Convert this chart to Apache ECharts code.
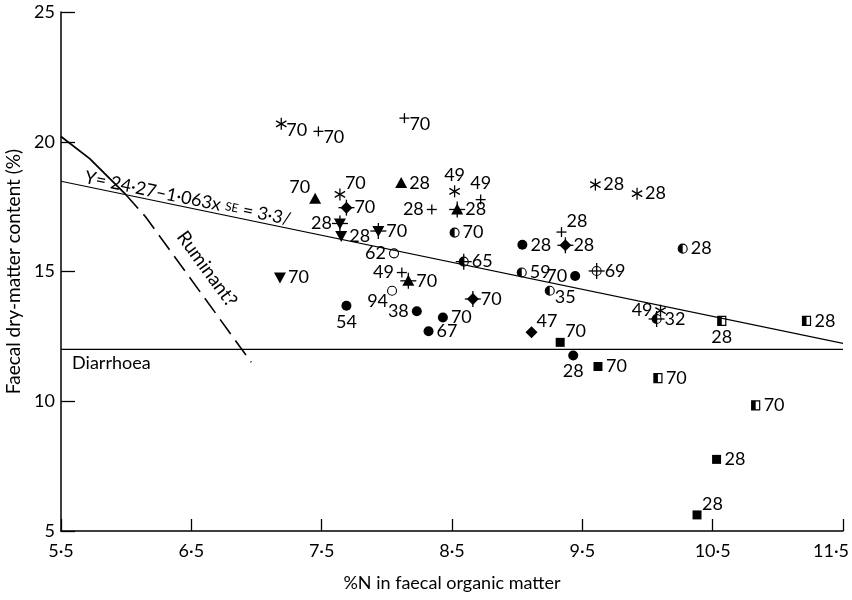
<!DOCTYPE html>
<html>
<head>
<meta charset="utf-8">
<script src="https://cdn.jsdelivr.net/npm/echarts@6/dist/echarts.min.js"></script>
<style>
html, body { margin: 0; padding: 0; background: #fff; }
#chart { width: 852px; height: 600px; }
</style>
</head>
<body>
<div id="chart"></div>
<script>
// axis ticks
var xTickValues = [5.5, 6.5, 7.5, 8.5, 9.5, 10.5, 11.5];
var xTickLabels = ['5·5', '6·5', '7·5', '8·5', '9·5', '10·5', '11·5'];
var yTickValues = [5, 10, 15, 20, 25];
var yTickLabels = ['5', '10', '15', '20', '25'];

// points: [%N, dry matter %, n]
var starPts = [[7.19, 20.69, 70], [7.64, 17.97, 70], [8.52, 18.09, 49], [9.60, 18.35, 28], [9.92, 18.00, 28], [10.10, 13.49, 49]];
var plusPts = [[7.475, 20.40, 70], [8.135, 20.91, 70], [8.345, 17.39, 28], [8.72, 17.77, 49], [9.34, 16.52, 28], [8.115, 14.96, 49]];
var triUpPts = [[7.45, 17.80, 70], [8.11, 18.41, 28]];
var triUpPlusPts = [[8.54, 17.39, 28], [8.165, 14.64, 70]];
var triDownPts = [[7.18, 14.77, 70], [7.65, 16.37, 28]];
var triDownPlusPts = [[7.64, 16.85, 28], [7.935, 16.56, 70]];
var diamondPts = [[9.11, 12.66, 47]];
var diamondPlusPts = [[7.69, 17.46, 70], [8.66, 13.94, 70], [9.37, 16.01, 28]];
var dotPts = [[7.69, 13.68, 54], [8.23, 13.47, 38], [8.43, 13.23, 70], [8.32, 12.70, 67], [9.04, 16.03, 28], [9.445, 14.83, 70], [9.43, 11.76, 28]];
var ringPts = [[8.055, 15.70, 62], [8.04, 14.26, 94]];
var ringPlusPts = [[9.61, 15.02, 69]];
var halfPts = [[8.52, 16.50, 70], [9.035, 14.96, 59], [9.25, 14.26, 35], [10.27, 15.88, 28]];
var halfPlusPts = [[8.59, 15.38, 65], [10.07, 13.17, 32]];
var squarePts = [[9.33, 12.27, 70], [9.62, 11.34, 70], [10.53, 7.76, 28], [10.38, 5.62, 28]];
var halfSquarePts = [[10.57, 13.10, 28], [11.22, 13.10, 28], [10.08, 10.89, 70], [10.83, 9.84, 70]];

// lines
var regressionLine = [[5.5, 18.48], [11.5, 12.23]];
var diarrhoeaLine = [[5.5, 12.0], [11.5, 12.0]];
var ruminantSolid = [[5.5, 20.2], [5.72, 19.35], [6.0, 17.95]];
var ruminantDashed = [[6.0, 17.95], [6.15, 17.1], [6.96, 11.5]];

// where each number sits relative to its marker
var labelSides = {
  star: ['br', 'tr', 't', 'r', 'r', 'l'],
  plus: ['br', 'br', 'l', 't', 'tr', 'l'],
  triUp: ['tl', 'r'],
  triUpPlus: ['r', 'r'],
  triDown: ['r', 'r'],
  triDownPlus: ['l', 'r'],
  diamond: ['tr'],
  diamondPlus: ['r', 'r', 'r'],
  dot: ['b', 'l', 'r', 'r', 'r', 'l', 'b'],
  ring: ['l', 'bl'],
  ringPlus: ['r'],
  half: ['r', 'r', 'br', 'r'],
  halfPlus: ['r', 'r'],
  square: ['tr', 'r', 'r', 'tr'],
  halfSquare: ['b', 'r', 'r', 'r']
};
var sideOffsets = {
  r: [8, 0, 'left', 'middle'],
  l: [-8, 0, 'right', 'middle'],
  t: [0, -7, 'center', 'bottom'],
  b: [0, 7, 'center', 'top'],
  tr: [5, -2, 'left', 'bottom'],
  tl: [-5, -3, 'right', 'bottom'],
  br: [5, -3, 'left', 'top'],
  bl: [-4, 1, 'right', 'top']
};

var FONT = 'Lato, "Open Sans", sans-serif';
var chart = echarts.init(document.getElementById('chart'));

function drawShape(kind, cx, cy) {
  var els = [];
  var ln = { stroke: '#000', lineWidth: 1.3, fill: null };
  function seg(x1, y1, x2, y2) {
    els.push({ type: 'line', shape: { x1: x1, y1: y1, x2: x2, y2: y2 }, style: ln });
  }
  function plus(h) { seg(cx - h, cy, cx + h, cy); seg(cx, cy - h, cx, cy + h); }
  function poly(pts) { els.push({ type: 'polygon', shape: { points: pts }, style: { fill: '#000' } }); }
  function ring() { els.push({ type: 'circle', shape: { cx: cx, cy: cy, r: 4.5 }, style: { fill: '#fff', stroke: '#000', lineWidth: 1.1 } }); }
  function half() {
    ring();
    els.push({ type: 'sector', shape: { cx: cx, cy: cy, r0: 0, r: 4.5, startAngle: Math.PI / 2, endAngle: Math.PI * 1.5, clockwise: true }, style: { fill: '#000' } });
  }
  var diamond = [[cx, cy - 6], [cx + 6, cy], [cx, cy + 6], [cx - 6, cy]];
  var up = [[cx, cy - 6], [cx + 6, cy + 5], [cx - 6, cy + 5]];
  var down = [[cx - 6, cy - 5], [cx + 6, cy - 5], [cx, cy + 6]];
  switch (kind) {
    case 'star':
      for (var a = 0; a < 3; a++) {
        var t = Math.PI / 2 + a * Math.PI / 3;
        seg(cx - 6 * Math.cos(t), cy - 6 * Math.sin(t), cx + 6 * Math.cos(t), cy + 6 * Math.sin(t));
      }
      break;
    case 'plus': plus(5); break;
    case 'triUp': poly(up); break;
    case 'triUpPlus': poly(up); plus(8); break;
    case 'triDown': poly(down); break;
    case 'triDownPlus': poly(down); plus(8); break;
    case 'diamond': poly(diamond); break;
    case 'diamondPlus': poly(diamond); plus(8); break;
    case 'dot': els.push({ type: 'circle', shape: { cx: cx, cy: cy, r: 5 }, style: { fill: '#000' } }); break;
    case 'ring': ring(); break;
    case 'ringPlus': ring(); plus(8); break;
    case 'half': half(); break;
    case 'halfPlus': half(); plus(8); break;
    case 'square': els.push({ type: 'rect', shape: { x: cx - 4.5, y: cy - 4.5, width: 9, height: 9 }, style: { fill: '#000' } }); break;
    case 'halfSquare':
      els.push({ type: 'rect', shape: { x: cx - 4, y: cy - 4.5, width: 8, height: 9 }, style: { fill: '#fff', stroke: '#000', lineWidth: 1.2 } });
      els.push({ type: 'rect', shape: { x: cx - 4, y: cy - 4.5, width: 4, height: 9 }, style: { fill: '#000' } });
      break;
  }
  return els;
}

function markerSeries(kind, pts) {
  return {
    type: 'custom',
    name: kind,
    data: pts,
    silent: true,
    encode: { x: 0, y: 1 },
    renderItem: function (params, api) {
      var p = api.coord([api.value(0), api.value(1)]);
      var kids = drawShape(kind, p[0], p[1]);
      var s = sideOffsets[labelSides[kind][params.dataIndex]];
      kids.push({
        type: 'text',
        style: {
          text: String(api.value(2)), x: p[0] + s[0], y: p[1] + s[1],
          align: s[2], verticalAlign: s[3], font: '18px ' + FONT, fill: '#000'
        }
      });
      return { type: 'group', children: kids };
    }
  };
}

function lineSeries(data, dashed, width) {
  return {
    type: 'line', data: data, symbol: 'none', silent: true,
    lineStyle: { color: '#000', width: width, type: dashed ? [18, 8] : 'solid' }
  };
}

function pickLabel(vals, labels, v) {
  for (var i = 0; i < vals.length; i++) if (Math.abs(vals[i] - v) < 1e-6) return labels[i];
  return '';
}

chart.setOption({
  animation: false,
  backgroundColor: '#fff',
  grid: { left: 61, right: 9, top: 12, bottom: 69, outerBoundsMode: 'none' },
  xAxis: {
    type: 'value', min: 5.5, max: 11.5,
    axisLine: { onZero: false, lineStyle: { color: '#000', width: 1.5 } },
    axisTick: { inside: true, length: 12, customValues: xTickValues, lineStyle: { color: '#000', width: 1.3 } },
    axisLabel: {
      customValues: xTickValues, color: '#000', fontSize: 18, fontFamily: FONT, margin: 11,
      formatter: function (v) {
        var t = pickLabel(xTickValues, xTickLabels, v);
        // last label sits just inside the page edge
        return v === xTickValues[xTickValues.length - 1] ? '{last|' + t + '}' : t;
      },
      rich: { last: { padding: [0, 24, 0, 0], color: '#000', fontSize: 18, fontFamily: FONT } }
    },
    splitLine: { show: false },
    name: '%N in faecal organic matter', nameLocation: 'middle', nameGap: 43,
    nameTextStyle: { color: '#000', fontSize: 18, fontFamily: FONT }
  },
  yAxis: {
    type: 'value', min: 5, max: 25, interval: 5,
    axisLine: { onZero: false, lineStyle: { color: '#000', width: 1.5 } },
    axisTick: { inside: true, length: 14, customValues: yTickValues, lineStyle: { color: '#000', width: 1.3 } },
    axisLabel: {
      customValues: yTickValues, color: '#000', fontSize: 18, fontFamily: FONT, margin: 6,
      formatter: function (v) { return pickLabel(yTickValues, yTickLabels, v); }
    },
    splitLine: { show: false },
    name: 'Faecal dry-matter content (%)', nameLocation: 'middle', nameGap: 33, nameRotate: 90,
    nameTextStyle: { color: '#000', fontSize: 19, fontFamily: FONT }
  },
  series: [
    lineSeries(regressionLine, false, 1.1),
    lineSeries(diarrhoeaLine, false, 1.1),
    lineSeries(ruminantSolid, false, 1.8),
    lineSeries(ruminantDashed, true, 1.6),
    markerSeries('star', starPts),
    markerSeries('plus', plusPts),
    markerSeries('triUp', triUpPts),
    markerSeries('triUpPlus', triUpPlusPts),
    markerSeries('triDown', triDownPts),
    markerSeries('triDownPlus', triDownPlusPts),
    markerSeries('diamond', diamondPts),
    markerSeries('diamondPlus', diamondPlusPts),
    markerSeries('dot', dotPts),
    markerSeries('ring', ringPts),
    markerSeries('ringPlus', ringPlusPts),
    markerSeries('half', halfPts),
    markerSeries('halfPlus', halfPlusPts),
    markerSeries('square', squarePts),
    markerSeries('halfSquare', halfSquarePts)
  ]
});

// annotations placed through the grid's scales
function px(pt) { return chart.convertToPixel({ gridIndex: 0 }, pt); }
var r0 = px(regressionLine[0]), r1 = px(regressionLine[1]);
var regAngle = Math.atan2(r1[1] - r0[1], r1[0] - r0[0]);
var regStart = px([5.67, 18.30]);
var d0 = px(ruminantDashed[1]), d1 = px(ruminantDashed[2]);
var rumAngle = Math.atan2(d1[1] - d0[1], d1[0] - d0[0]);
var rumPos = px([6.62, 15.1]);
var diaPos = px([5.585, 11.47]);

chart.setOption({
  graphic: [
    {
      type: 'text', x: regStart[0], y: regStart[1], rotation: -regAngle,
      style: {
        text: 'Y= 24·27–1·063x {s|SE} = 3·3/', font: '18px ' + FONT, fill: '#000',
        align: 'left', verticalAlign: 'bottom',
        rich: { s: { font: '12px ' + FONT, fill: '#000' } }
      }
    },
    {
      type: 'text', x: rumPos[0], y: rumPos[1], rotation: -rumAngle,
      style: { text: 'Ruminant?', font: '19px ' + FONT, fill: '#000', align: 'center', verticalAlign: 'middle' }
    },
    {
      type: 'text', x: diaPos[0], y: diaPos[1],
      style: { text: 'Diarrhoea', font: '18px ' + FONT, fill: '#000', align: 'left', verticalAlign: 'middle' }
    }
  ]
});
</script>
</body>
</html>
